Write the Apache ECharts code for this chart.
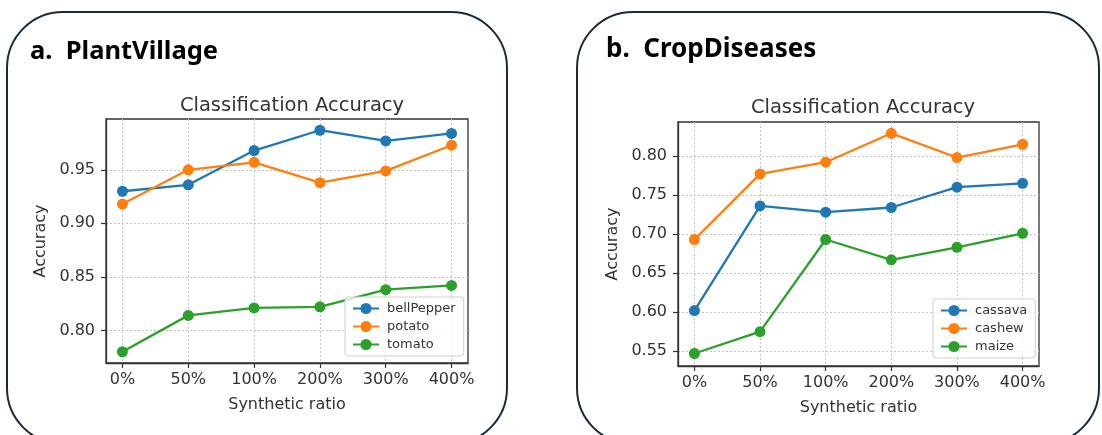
<!DOCTYPE html>
<html>
<head>
<meta charset="utf-8">
<script src="https://cdn.jsdelivr.net/npm/echarts@6/dist/echarts.min.js"></script>
<style>
  html, body { margin: 0; padding: 0; background: #fff; }
  #chart { width: 1102px; height: 435px; }
</style>
</head>
<body>
<div id="chart"></div>
<script>
// Synthetic-data ratios on the x axis
const ratios = ['0%', '50%', '100%', '200%', '300%', '400%'];

// a. PlantVillage
const bellPepper = [0.930, 0.936, 0.968, 0.987, 0.977, 0.984];
const potato     = [0.918, 0.950, 0.957, 0.938, 0.949, 0.973];
const tomato     = [0.780, 0.814, 0.821, 0.822, 0.838, 0.842];
const plantTicks = [0.80, 0.85, 0.90, 0.95];

// b. CropDiseases
const cassava = [0.602, 0.736, 0.728, 0.734, 0.760, 0.765];
const cashew  = [0.693, 0.777, 0.792, 0.829, 0.798, 0.815];
const maize   = [0.547, 0.575, 0.693, 0.667, 0.683, 0.701];
const cropTicks = [0.55, 0.60, 0.65, 0.70, 0.75, 0.80];

const COLORS = ['#1f77b4', '#ff7f0e', '#2ca02c'];
const FONT = 'DejaVu Sans';
const ratioIdx = ratios.map((_, i) => i);

function pairs(vals) { return vals.map((v, i) => [i, v]); }

function xAxisFor(gridIndex) {
  return {
    type: 'value', gridIndex, min: -0.25, max: 5.25,
    name: 'Synthetic ratio', nameLocation: 'middle', nameGap: 34,
    nameTextStyle: { fontFamily: FONT, fontSize: 16, color: '#333' },
    axisLine: { show: true, onZero: false, lineStyle: { color: '#333', width: 1.3 } },
    axisTick: { show: true, length: 5, customValues: ratioIdx, lineStyle: { color: '#333', width: 1.2 } },
    axisLabel: { customValues: ratioIdx, margin: 9, fontFamily: FONT, fontSize: 16, color: '#333',
                 formatter: v => ratios[Math.round(v)] },
    splitLine: { show: true, lineStyle: { color: '#c4c4c4', type: [2, 2], width: 1 } }
  };
}

function yAxisFor(gridIndex, min, max, ticks) {
  return {
    type: 'value', gridIndex, min, max,
    name: 'Accuracy', nameLocation: 'middle', nameGap: 57, nameRotate: 90,
    nameTextStyle: { fontFamily: FONT, fontSize: 16, color: '#333' },
    axisLine: { show: true, onZero: false, lineStyle: { color: '#333', width: 1.3 } },
    axisTick: { show: true, length: 5, customValues: ticks, lineStyle: { color: '#333', width: 1.2 } },
    axisLabel: { customValues: ticks, margin: 11, fontFamily: FONT, fontSize: 16, color: '#333',
                 formatter: v => v.toFixed(2) },
    splitLine: { show: true, lineStyle: { color: '#c4c4c4', type: [2, 2], width: 1 } }
  };
}

function lineSeries(name, vals, color, axisIndex) {
  return {
    type: 'line', name, data: pairs(vals),
    xAxisIndex: axisIndex, yAxisIndex: axisIndex,
    symbol: 'circle', symbolSize: 11,
    lineStyle: { color, width: 2.3 },
    itemStyle: { color },
    emphasis: { disabled: true },
    animation: false
  };
}

function legendFor(names, left, top) {
  return {
    data: names, orient: 'vertical', left, top,
    itemWidth: 26, itemHeight: 14, itemGap: 5,
    padding: [5, 8, 5, 7],
    backgroundColor: 'rgba(255,255,255,0.8)',
    borderColor: '#d0d0d0', borderWidth: 1, borderRadius: 3,
    textStyle: { fontFamily: FONT, fontSize: 13, color: '#333', padding: [0, 0, 0, 3] }
  };
}

const chart = echarts.init(document.getElementById('chart'), null, { renderer: 'canvas' });

chart.setOption({
  animation: false,
  backgroundColor: '#fff',
  title: [
    { text: 'a.  PlantVillage', left: 25, top: 34,
      textStyle: { fontFamily: 'Noto Sans', fontWeight: 'bold', fontSize: 25.5, color: '#000' } },
    { text: 'b.  CropDiseases', left: 601, top: 32,
      textStyle: { fontFamily: 'Noto Sans', fontWeight: 'bold', fontSize: 26, color: '#000' } },
    { text: 'Classification Accuracy', left: 287, top: 91, textAlign: 'center',
      textStyle: { fontFamily: FONT, fontWeight: 'normal', fontSize: 19.5, color: '#333' } },
    { text: 'Classification Accuracy', left: 858, top: 93, textAlign: 'center',
      textStyle: { fontFamily: FONT, fontWeight: 'normal', fontSize: 19.5, color: '#333' } }
  ],
  graphic: [
    { type: 'rect', shape: { x: 7, y: 12, width: 500, height: 432, r: 56 },
      style: { fill: 'none', stroke: '#1b2a38', lineWidth: 2 }, z: -1 },
    { type: 'rect', shape: { x: 577, y: 12, width: 522, height: 432, r: 56 },
      style: { fill: 'none', stroke: '#1b2a38', lineWidth: 2 }, z: -1 }
  ],
  grid: [
    { left: 106, top: 119, width: 362, height: 244, show: true, borderColor: '#333', borderWidth: 1.3 },
    { left: 678, top: 122, width: 361, height: 244, show: true, borderColor: '#333', borderWidth: 1.3 }
  ],
  xAxis: [xAxisFor(0), xAxisFor(1)],
  yAxis: [
    yAxisFor(0, 0.7695, 0.9975, plantTicks),
    yAxisFor(1, 0.531, 0.8435, cropTicks)
  ],
  legend: [
    legendFor(['bellPepper', 'potato', 'tomato'], 345, 297),
    legendFor(['cassava', 'cashew', 'maize'], 933, 299)
  ],
  series: [
    lineSeries('bellPepper', bellPepper, COLORS[0], 0),
    lineSeries('potato', potato, COLORS[1], 0),
    lineSeries('tomato', tomato, COLORS[2], 0),
    lineSeries('cassava', cassava, COLORS[0], 1),
    lineSeries('cashew', cashew, COLORS[1], 1),
    lineSeries('maize', maize, COLORS[2], 1)
  ]
});
</script>
</body>
</html>
